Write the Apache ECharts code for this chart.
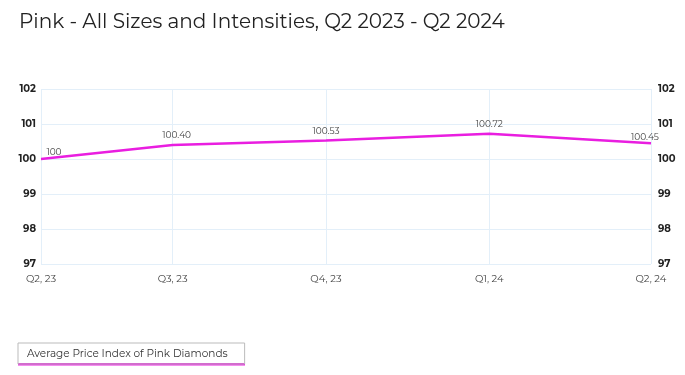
<!DOCTYPE html>
<html><head><meta charset="utf-8">
<script src="https://cdn.jsdelivr.net/npm/echarts@6/dist/echarts.min.js"></script>
<style>html,body{margin:0;padding:0;background:#fff}#c{width:685px;height:375px}</style>
</head><body><div id="c"></div>
<script>
const dates = ['2023-04-01', '2023-06-19', '2023-09-19', '2023-12-26', '2024-04-01'];
const quarterLabels = ['Q2, 23', 'Q3, 23', 'Q4, 23', 'Q1, 24', 'Q2, 24'];
const priceIndex = [100, 100.40, 100.53, 100.72, 100.45];
const valueLabels = ['100', '100.40', '100.53', '100.72', '100.45'];
const seriesName = 'Average Price Index of Pink Diamonds';

const DAY = 86400000;
const ts = dates.map(d => Math.round(+new Date(d + 'T00:00:00Z') / DAY));
const labelOffsets = [[13, 3], [4, 0], [0, 0], [0, 0], [-6, 4]];
const data = ts.map((t, i) => ({
  value: [t, priceIndex[i]],
  label: { offset: labelOffsets[i], formatter: valueLabels[i] }
}));
const font = 'Montserrat, "DejaVu Sans", sans-serif';
const gridColor = '#e3eff9';

const chart = echarts.init(document.getElementById('c'), null, { renderer: 'canvas' });
chart.setOption({
  animation: false,
  title: {
    text: 'Pink - All Sizes and Intensities, Q2 2023 - Q2 2024',
    left: 14, top: 7,
    textStyle: { fontFamily: font, fontSize: 20, fontWeight: 'normal', color: '#222' }
  },
  grid: { left: 41, right: 34, top: 89, bottom: 111 },
  xAxis: {
    type: 'value',
    min: ts[0], max: ts[ts.length - 1],
    axisLine: { show: false },
    axisTick: { show: false, customValues: ts },
    axisLabel: {
      customValues: ts,
      formatter: v => { const i = ts.indexOf(Math.round(v)); return i >= 0 ? quarterLabels[i] : ''; },
      fontFamily: font, fontSize: 10, color: '#444', margin: 10
    },
    splitLine: { show: true, lineStyle: { color: gridColor, width: 1 } }
  },
  yAxis: [{
    type: 'value', min: 97, max: 102, interval: 1,
    axisLine: { show: false }, axisTick: { show: false },
    axisLabel: { fontFamily: font, fontSize: 10, fontWeight: 'bold', color: '#222', margin: 5 },
    splitLine: { show: true, lineStyle: { color: gridColor, width: 1 } }
  }, {
    type: 'value', min: 97, max: 102, interval: 1, position: 'right',
    axisLine: { show: false }, axisTick: { show: false },
    axisLabel: { fontFamily: font, fontSize: 10, fontWeight: 'bold', color: '#222', margin: 7 },
    splitLine: { show: false }
  }],
  legend: {
    left: 18, top: 343,
    data: [{ name: seriesName, icon: 'none' }],
    itemWidth: 0, itemHeight: 0, itemGap: 0,
    padding: [5, 17, 5, 4],
    borderColor: '#bbb', borderWidth: 1, borderRadius: 0,
    textStyle: { fontFamily: font, fontSize: 10.5, color: '#333' }
  },
  graphic: [{
    type: 'rect', left: 18, top: 363,
    shape: { width: 227, height: 2.5 },
    style: { fill: '#e91ee0' }, silent: true
  }],
  series: [{
    name: seriesName, type: 'line', yAxisIndex: 0,
    data: data,
    symbol: 'circle', symbolSize: 0, showSymbol: true,
    lineStyle: { color: '#e91ee0', width: 2.5 },
    itemStyle: { color: '#e91ee0' },
    label: { show: true, position: 'top', distance: 5, fontFamily: font, fontSize: 9, color: '#444' }
  }]
});
</script></body></html>
